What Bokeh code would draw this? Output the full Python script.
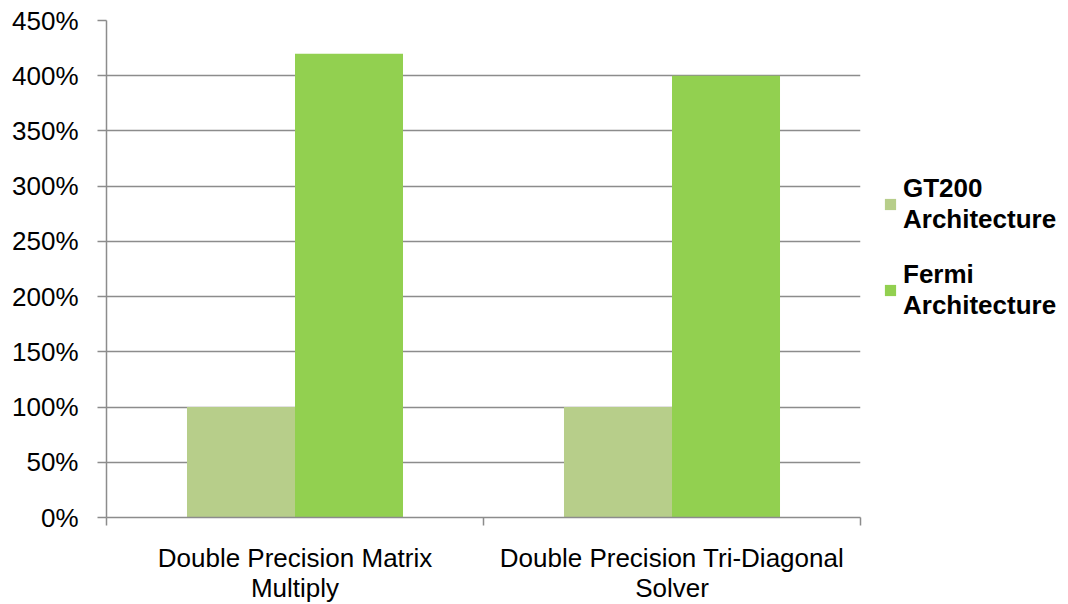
from bokeh.plotting import figure
from bokeh.models import (ColumnDataSource, Range1d, FixedTicker, PrintfTickFormatter,
                          Legend, LegendItem)
from bokeh.embed import file_html
from bokeh.resources import INLINE

categories = ["Double Precision Matrix\nMultiply", "Double Precision Tri-Diagonal\nSolver"]
series_names = ["GT200\nArchitecture", "Fermi\nArchitecture"]
gt200 = [100, 100]
fermi = [420, 400]
y_ticks = [0, 50, 100, 150, 200, 250, 300, 350, 400, 450]

colors = ["#B7CE8A", "#92D050"]
grid_col = "#8C8C8C"
FONT = "Liberation Sans"

n = len(categories)
centers = [i + 0.5 for i in range(n)]
bw = 0.2865

p = figure(output_backend="svg", toolbar_location=None,
           x_range=Range1d(0, n), y_range=Range1d(0, 450),
           frame_width=754, frame_height=497,
           min_border_left=106, min_border_right=192, min_border_top=20, min_border_bottom=60)
p.outline_line_color = None
p.background_fill_color = "white"

src1 = ColumnDataSource(dict(x=[c - bw / 2 for c in centers], top=gt200))
src2 = ColumnDataSource(dict(x=[c + bw / 2 for c in centers], top=fermi))
r1 = p.vbar(x="x", top="top", bottom=0, width=bw, source=src1, fill_color=colors[0], line_color=None)
r2 = p.vbar(x="x", top="top", bottom=0, width=bw, source=src2, fill_color=colors[1], line_color=None)

# x axis
p.xaxis.ticker = FixedTicker(ticks=centers, minor_ticks=list(range(n + 1)))
p.xaxis.major_label_overrides = {c: lab for c, lab in zip(centers, categories)}
p.xaxis.major_tick_out = 0
p.xaxis.major_tick_in = 0
p.xaxis.minor_tick_out = 8
p.xaxis.minor_tick_in = 0
p.xaxis.minor_tick_line_color = grid_col
p.xaxis.minor_tick_line_width = 1.5
p.xaxis.axis_line_color = grid_col
p.xaxis.axis_line_width = 1.5
p.xaxis.major_label_text_font = FONT
p.xaxis.major_label_text_font_size = "26px"
p.xaxis.major_label_text_color = "black"
p.xaxis.major_label_text_line_height = 1.0
p.xaxis.major_label_standoff = 17
p.xgrid.grid_line_color = None

# y axis
p.yaxis.ticker = FixedTicker(ticks=y_ticks, minor_ticks=[])
p.yaxis.formatter = PrintfTickFormatter(format="%d%%")
p.yaxis.major_tick_out = 9
p.yaxis.major_tick_in = 0
p.yaxis.major_tick_line_color = grid_col
p.yaxis.major_tick_line_width = 1.5
p.yaxis.axis_line_color = grid_col
p.yaxis.axis_line_width = 1.5
p.yaxis.major_label_text_font = FONT
p.yaxis.major_label_text_font_size = "26px"
p.yaxis.major_label_text_color = "black"
p.yaxis.major_label_standoff = 19
p.ygrid.grid_line_color = grid_col
p.ygrid.grid_line_width = 1.5
p.ygrid.ticker = FixedTicker(ticks=y_ticks)

legend = Legend(items=[LegendItem(label=series_names[0], renderers=[r1]),
                       LegendItem(label=series_names[1], renderers=[r2])],
                location=(23, 196))
legend.label_text_font = FONT
legend.label_text_font_style = "bold"
legend.label_text_font_size = "26px"
legend.label_text_color = "black"
legend.label_text_line_height = 1.25
legend.glyph_width = 14
legend.glyph_height = 14
legend.label_standoff = 6
legend.spacing = 24
legend.border_line_color = None
legend.background_fill_alpha = 0
legend.padding = 0
legend.margin = 0
p.add_layout(legend, "right")

open("out.html", "w").write(file_html(p, INLINE))
